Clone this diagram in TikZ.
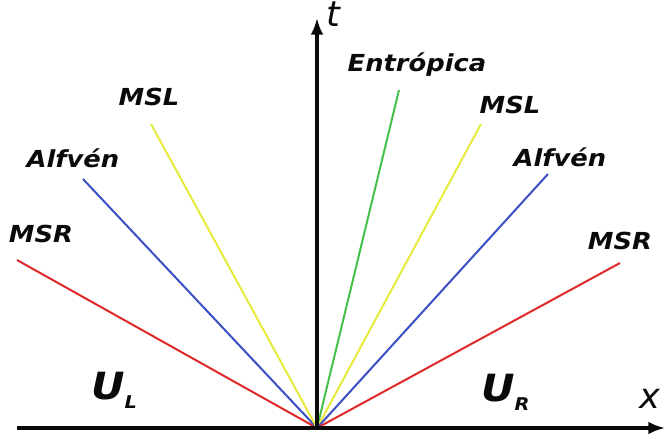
\documentclass[tikz,border=0pt]{standalone}
\usepackage{fontspec}
\usepackage{tikz}
\usetikzlibrary{arrows.meta}
\newfontfamily\wavefont{DejaVu Sans}[FakeStretch=1.1]
\newfontfamily\axisfont{DejaVu Sans}
\definecolor{msr}{HTML}{E02828}
\definecolor{alfven}{HTML}{3A4FC4}
\definecolor{msl}{HTML}{E6EA3C}
\definecolor{entr}{HTML}{44C048}
\definecolor{ink}{HTML}{0A0A0A}

\begin{document}
\begin{tikzpicture}[
    x=0.03cm, y=0.03cm,
    axis/.style={-{Latex[length=5mm,width=3.8mm]}, draw=ink, line width=2.6pt},
    wave/.style={line width=1.7pt},
    lbl/.style={font=\wavefont\bfseries\itshape\fontsize{20}{24}\selectfont, text=ink, inner sep=0pt, anchor=base},
    state/.style={font=\wavefont\bfseries\itshape\fontsize{32}{36}\selectfont, text=ink, inner sep=0pt, anchor=base west},
    axlbl/.style={font=\axisfont\itshape\fontsize{30}{34}\selectfont, text=ink, inner sep=0pt, anchor=base},
  ]
  \useasboundingbox (-317,-10) rectangle (348,428);

  \coordinate (o)    at (0,0);
  \coordinate (xbeg) at (-300,0);
  \coordinate (xend) at (348,0);
  \coordinate (tend) at (0,410);

  % wave fronts leaving the origin, left family then right family
  \coordinate (msrL) at (-300,168);
  \coordinate (alfL) at (-234,249);
  \coordinate (mslL) at (-166,304);
  \coordinate (ent)  at (82,338);
  \coordinate (mslR) at (164,304);
  \coordinate (alfR) at (231,254);
  \coordinate (msrR) at (303,165);

  \draw[wave, msr]    (o) -- (msrL);
  \draw[wave, alfven] (o) -- (alfL);
  \draw[wave, msl]    (o) -- (mslL);
  \draw[wave, entr]   (o) -- (ent);
  \draw[wave, msl]    (o) -- (mslR);
  \draw[wave, alfven] (o) -- (alfR);
  \draw[wave, msr]    (o) -- (msrR);

  \draw[axis] (xbeg) -- (xend);
  \draw[axis] (o) -- (tend);

  \node[lbl] (lmsrL) at (-276,186) {MSR};
  \node[lbl] (lalfL) at (-244,261) {Alfvén};
  \node[lbl] (lmslL) at (-168,323) {MSL};
  \node[lbl] (lent)  at (100,357)  {Entrópica};
  \node[lbl] (lmslR) at (193,315)  {MSL};
  \node[lbl] (lalfR) at (243,262)  {Alfvén};
  \node[lbl] (lmsrR) at (303,179)  {MSR};

  % states either side of the fan, subscript hung below the baseline
  \node[state] (ul) at (-226,29) {U\raisebox{-8pt}{\fontsize{15}{17}\selectfont L}};
  \node[state] (ur) at (164,27)  {U\raisebox{-8pt}{\fontsize{15}{17}\selectfont R}};

  \node[axlbl] (tl) at (16,401) {t};
  \node[axlbl] (xl) at (333,20) {x};
\end{tikzpicture}
\end{document}
